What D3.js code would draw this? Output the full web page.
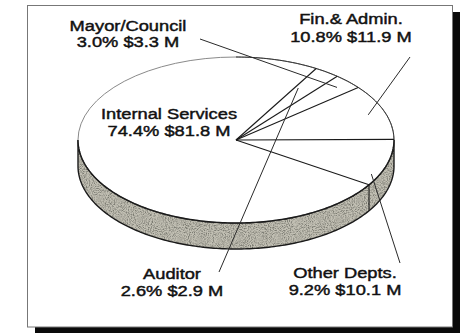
<!DOCTYPE html>
<html>
<head>
<meta charset="utf-8">
<script src="https://cdn.jsdelivr.net/npm/d3@7/dist/d3.min.js"></script>
<style>
  html, body { margin: 0; padding: 0; background: #fff; }
  svg { display: block; }
  text { font-family: "Liberation Sans", Arial, Helvetica, sans-serif; }
</style>
</head>
<body>
<svg id="chart" width="460" height="333"></svg>
<script>
// Budget by department
const departments = ["Auditor", "Mayor/Council", "Fin.& Admin.", "Other Depts.", "Internal Services"];
const shares = [2.6, 3.0, 10.8, 9.2, 74.4];      // percent of total
const amounts = [2.9, 3.3, 11.9, 10.1, 81.8];    // $ millions

// Label placement: anchor centre, first baseline, leader start, leader tip (angle offset in deg, radius fraction)
const labelLayout = {
  "Auditor":           { x: 172, y: 279, gap: 17.5, lx: 219, ly: 272, da: -3,  r: 0.74 },
  "Mayor/Council":     { x: 128, y: 30.5, gap: 16.5, lx: 200, ly: 39,  da: 0,   r: 0.90 },
  "Fin.& Admin.":      { x: 351, y: 23.5, gap: 19,   lx: 410, ly: 57,  da: 0,   r: 0.89 },
  "Other Depts.":      { x: 345, y: 278, gap: 17.5, lx: 400, ly: 263, da: 9.5, r: 0.95 },
  "Internal Services": { x: 169, y: 119, gap: 17,   lx: null }
};

const data = departments.map((name, i) => ({ name, share: shares[i], amount: amounts[i] }));

const svg = d3.select("#chart");
const defs = svg.append("defs");

// grainy texture for the pie's side wall
const grain = defs.append("filter").attr("id", "grain")
  .attr("x", 0).attr("y", 0).attr("width", "100%").attr("height", "100%");
grain.append("feTurbulence").attr("type", "fractalNoise").attr("baseFrequency", 0.95)
  .attr("numOctaves", 2).attr("seed", 7).attr("result", "noise");
grain.append("feColorMatrix").attr("in", "noise").attr("type", "matrix")
  .attr("values", "0 0 0 0 0.2  0 0 0 0 0.2  0 0 0 0 0.17  0 0 0 2.6 -1.0")
  .attr("result", "dots");
grain.append("feComposite").attr("in", "dots").attr("in2", "SourceGraphic")
  .attr("operator", "in").attr("result", "clipped");
const merge = grain.append("feMerge");
merge.append("feMergeNode").attr("in", "SourceGraphic");
merge.append("feMergeNode").attr("in", "clipped");

// frame with drop shadow
svg.append("rect").attr("x", 35).attr("y", 12).attr("width", 430).attr("height", 330).attr("fill", "#0a0a0a");
svg.append("rect").attr("x", 27.5).attr("y", 5.5).attr("width", 425).attr("height", 321.5)
  .attr("fill", "#fff").attr("stroke", "#777").attr("stroke-width", 1);

// pie geometry
const cx = 236, cy = 140, rx = 158, ry = 83, depth = 26;
const xs = d3.scaleLinear().domain([-1, 1]).range([cx - rx, cx + rx]);
const ys = d3.scaleLinear().domain([-1, 1]).range([cy - ry, cy + ry]);
// d3 angle (0 = 12 o'clock, clockwise) -> point on the tilted disc
const pt = (a, r = 1) => [xs(r * Math.sin(a)), ys(-r * Math.cos(a))];

const start = 30.5 * Math.PI / 180;
const pie = d3.pie().sort(null).value(d => d.share).startAngle(start).endAngle(start + 2 * Math.PI);
const arcs = pie(data);

// front side wall (visible half of the rim)
const frontAngles = d3.range(0, 181).map(i => Math.PI / 2 + i * Math.PI / 180);
const topEdge = frontAngles.map(a => pt(a));
const bottomEdge = frontAngles.slice().reverse().map(a => { const p = pt(a); return [p[0], p[1] + depth]; });
const line = d3.line();
svg.append("path")
  .attr("d", line(topEdge.concat(bottomEdge)) + "Z")
  .attr("fill", "#c2c0b4")
  .attr("filter", "url(#grain)");
svg.append("path")
  .attr("d", line(topEdge.concat(bottomEdge)) + "Z")
  .attr("fill", "none").attr("stroke", "#1a1a1a").attr("stroke-width", 1.4);

// top face
svg.append("ellipse").attr("cx", cx).attr("cy", cy).attr("rx", rx).attr("ry", ry)
  .attr("fill", "#fff").attr("stroke", "#8a8a8a").attr("stroke-width", 1);
// darker back-right edge of the top face
const backRight = d3.range(0, 91).map(i => pt(i * Math.PI / 180));
svg.append("path").attr("d", line(backRight)).attr("fill", "none")
  .attr("stroke", "#333").attr("stroke-width", 1);
svg.append("path").attr("d", line(topEdge)).attr("fill", "none")
  .attr("stroke", "#1a1a1a").attr("stroke-width", 1.4);

// slice boundaries on the top face
arcs.forEach(d => {
  const p = pt(d.startAngle);
  svg.append("line").attr("x1", xs(0)).attr("y1", ys(0)).attr("x2", p[0]).attr("y2", p[1])
    .attr("stroke", "#1a1a1a").attr("stroke-width", 1.1);
  // boundary continues down the wall when it falls on the front half
  const a = ((d.startAngle % (2 * Math.PI)) + 2 * Math.PI) % (2 * Math.PI);
  if (a > Math.PI / 2 + 0.01 && a < 3 * Math.PI / 2 - 0.01) {
    svg.append("line").attr("x1", p[0]).attr("y1", p[1]).attr("x2", p[0]).attr("y2", p[1] + depth)
      .attr("stroke", "#1a1a1a").attr("stroke-width", 1.1);
  }
});

// leaders and labels
const fmt = d3.format(".1f");
arcs.forEach(d => {
  const L = labelLayout[d.data.name];
  if (L.lx !== null) {
    const mid = (d.startAngle + d.endAngle) / 2 + L.da * Math.PI / 180;
    const tip = pt(mid, L.r);
    svg.append("line").attr("x1", L.lx).attr("y1", L.ly).attr("x2", tip[0]).attr("y2", tip[1])
      .attr("stroke", "#2a2a2a").attr("stroke-width", 1);
  }
  const g = svg.append("g").attr("transform", `translate(${L.x},${L.y}) scale(1.18,1)`);
  const lines = [d.data.name, `${fmt(d.data.share)}% $${fmt(d.data.amount)} M`];
  lines.forEach((t, i) => {
    g.append("text").attr("x", 0).attr("y", i * L.gap)
      .attr("text-anchor", "middle").attr("font-size", 15.5)
      .attr("fill", "#111").attr("stroke", "#111").attr("stroke-width", 0.45)
      .text(t);
  });
});
</script>
</body>
</html>
